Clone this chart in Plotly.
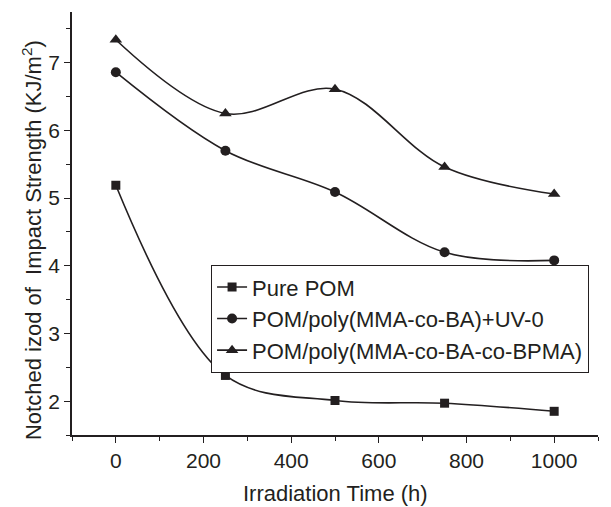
import plotly.graph_objects as go

time_h = [0, 250, 500, 750, 1000]
pure_pom = [5.19, 2.38, 2.01, 1.97, 1.85]
pom_uv0 = [6.86, 5.70, 5.09, 4.20, 4.08]
pom_bpma = [7.34, 6.25, 6.61, 5.46, 5.06]
names = ["Pure POM", "POM/poly(MMA-co-BA)+UV-0", "POM/poly(MMA-co-BA-co-BPMA)"]
symbols = ["square", "circle", "triangle-up"]
y_title = "Notched izod of  Impact Strength (KJ/m<sup>2</sup>)"
x_title = "Irradiation Time (h)"

ink = "#231f20"
font_fam = "Liberation Sans, Arial"
fig = go.Figure()
for vals, nm, sym, sz in zip([pure_pom, pom_uv0, pom_bpma], names, symbols, [9, 10, 11]):
    fig.add_trace(go.Scatter(
        x=time_h, y=vals, name=nm, mode="lines+markers",
        line=dict(color=ink, width=1.6, shape="spline", smoothing=1.0),
        marker=dict(symbol=sym, size=sz, color=ink),
    ))

axis_common = dict(
    showline=True, linecolor=ink, linewidth=1.5, ticks="outside", ticklen=6,
    tickwidth=1.3, tickcolor=ink, showgrid=False, zeroline=False, mirror=False,
    automargin=False,
    tickfont=dict(family=font_fam, size=21, color=ink),
)
fig.update_xaxes(range=[-100, 1100], dtick=200, tick0=0,
                 minor=dict(ticks="outside", ticklen=4, dtick=100, tickcolor=ink, tickwidth=1.2),
                 **axis_common)
fig.update_yaxes(range=[1.5, 7.75], dtick=1, tick0=0,
                 minor=dict(ticks="outside", ticklen=4, dtick=0.5, tickcolor=ink, tickwidth=1.2),
                 **axis_common)
fig.add_annotation(text=y_title, textangle=-90, xref="paper", yref="paper",
                   x=-0.076, y=0.461, xanchor="center", yanchor="middle", showarrow=False,
                   font=dict(family=font_fam, size=22, color=ink))
fig.add_annotation(text=x_title, xref="paper", yref="paper",
                   x=0.5, y=-0.1702, xanchor="center", yanchor="bottom", showarrow=False,
                   borderpad=0, font=dict(family=font_fam, size=22, color=ink))
fig.update_layout(
    width=611, height=507,
    margin=dict(l=72, r=13, t=12, b=72),
    plot_bgcolor="white", paper_bgcolor="white",
    legend=dict(x=0.264, y=0.402, xanchor="left", yanchor="top",
                bordercolor=ink, borderwidth=1.2, bgcolor="white",
                font=dict(family=font_fam, size=22, color=ink),
                tracegroupgap=0, itemsizing="trace"),
)
fig.write_html("out.html")
